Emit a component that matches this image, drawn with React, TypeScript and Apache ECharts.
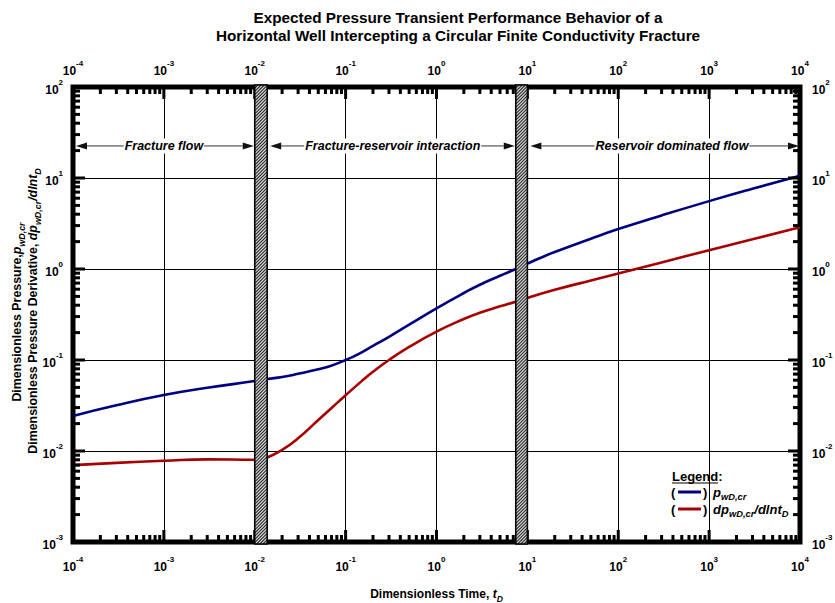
import React, { useEffect, useRef } from 'react';
import * as echarts from 'echarts';

const FONT = '"Liberation Sans", Arial, Helvetica, sans-serif';

// Axis extents (log10 scales on both axes)
const T_MIN = 1e-4;
const T_MAX = 1e4;
const P_MIN = 1e-3;
const P_MAX = 1e2;

// Dimensionless pressure p_wD,cr versus t_D
const pressureTime = [1e-4, 3e-4, 1e-3, 3e-3, 1e-2, 0.0137, 0.02, 0.03, 0.05, 0.0667, 0.1, 0.14, 0.2, 0.3, 0.5, 1, 2, 3, 5, 7.45, 10, 13.6, 20, 50, 100, 300, 1000, 3000, 1e4];
const pressureValues = [0.0243, 0.0318, 0.0412, 0.0495, 0.0587, 0.0618, 0.065, 0.0705, 0.079, 0.0855, 0.1, 0.117, 0.143, 0.18, 0.245, 0.37, 0.545, 0.672, 0.844, 1.0, 1.145, 1.311, 1.535, 2.155, 2.745, 3.88, 5.57, 7.62, 10.6];

// Pressure derivative dp_wD,cr/dln t_D versus t_D
const derivTime = [1e-4, 3e-4, 1e-3, 3e-3, 1e-2, 0.0137, 0.02, 0.03, 0.05, 0.07, 0.1, 0.15, 0.2, 0.3, 0.5, 1, 2, 3, 5, 7.45, 10, 20, 50, 100, 300, 1000, 3000, 1e4];
const derivValues = [0.007, 0.0074, 0.0078, 0.0081, 0.008, 0.0085, 0.0103, 0.0138, 0.0219, 0.0297, 0.041, 0.0586, 0.0742, 0.1, 0.139, 0.205, 0.282, 0.331, 0.389, 0.437, 0.48, 0.59, 0.749, 0.893, 1.18, 1.61, 2.12, 2.87];

// Transition zones between flow regimes [start t_D, end t_D]
const bandStart = [0.01, 7.45];
const bandEnd = [0.0137, 10];

// Flow-regime annotations
const regimeFrom = [1e-4, 0.0137, 10];
const regimeTo = [0.01, 7.45, 1e4];
const regimeLabelAt = [1e-3, 0.33, 390];
const regimeLabels = ['Fracture flow', 'Fracture-reservoir interaction', 'Reservoir dominated flow'];
const REGIME_LEVEL = 22.5;

// Tick positions: decades with 2..9 subdivisions
const xDecades = [-4, -3, -2, -1, 0, 1, 2, 3, 4];
const yDecades = [-3, -2, -1, 0, 1, 2];
const subdivisions = [1, 2, 3, 4, 5, 6, 7, 8, 9];

function buildTicks(decades: number[]) {
  const out: { v: number; major: boolean }[] = [];
  decades.forEach((d, i) => {
    subdivisions.forEach((m) => {
      if (i === decades.length - 1 && m > 1) return;
      out.push({ v: m * Math.pow(10, d), major: m === 1 });
    });
  });
  return out;
}

const xTicks = buildTicks(xDecades);
const yTicks = buildTicks(yDecades);

const powerRich = {
  b: { fontFamily: FONT, fontSize: 12, fontWeight: 'bold', color: '#000', lineHeight: 18, verticalAlign: 'bottom' },
  s: { fontFamily: FONT, fontSize: 8, fontWeight: 'bold', color: '#000', lineHeight: 6, verticalAlign: 'top' },
};

function powerLabel(v: number) {
  const e = Math.round(Math.log10(v));
  return `{b|10}{s|${e}}`;
}

function makeTitleRich(size: number) {
  return {
    t: { fontFamily: FONT, fontSize: size, fontWeight: 'bold', color: '#000', lineHeight: 18, verticalAlign: 'middle' },
    i: { fontFamily: FONT, fontSize: size, fontWeight: 'bold', fontStyle: 'italic', color: '#000', lineHeight: 18, verticalAlign: 'middle' },
    sub: { fontFamily: FONT, fontSize: size * 0.72, fontWeight: 'bold', fontStyle: 'italic', color: '#000', lineHeight: 8, verticalAlign: 'bottom' },
  };
}

const titleRich = makeTitleRich(12);
const yTitleRich = makeTitleRich(12.4);
const legendRich = makeTitleRich(13);

const BLUE = '#000080';
const RED = '#a80000';

function tickLine(x1: number, y1: number, x2: number, y2: number) {
  return { type: 'line', shape: { x1, y1, x2, y2 }, style: { stroke: '#000', lineWidth: 3 } };
}

export default function App() {
  const ref = useRef<HTMLDivElement>(null);

  useEffect(() => {
    document.body.style.margin = '0';
    if (!ref.current) return;
    const chart = echarts.init(ref.current, null, { renderer: 'svg' });

    const logAxisBase = {
      type: 'log' as const,
      logBase: 10,
      axisLine: { show: false },
      axisTick: { show: false },
      minorTick: { show: false },
    };

    const option: any = {
      animation: false,
      backgroundColor: '#fff',
      grid: {
        left: 73,
        right: 35,
        top: 87,
        bottom: 61,
        show: true,
        borderColor: '#000',
        borderWidth: 5,
        backgroundColor: 'transparent',
        containLabel: false,
        outerBoundsMode: 'none',
      },
      xAxis: [
        {
          ...logAxisBase,
          position: 'bottom',
          min: T_MIN,
          max: T_MAX,
          splitNumber: 8,
          splitLine: { show: true, lineStyle: { color: '#000', width: 1 } },
          axisLabel: { formatter: powerLabel, rich: powerRich, margin: 13, showMinLabel: true, showMaxLabel: true },
          name: '{t|Dimensionless Time, }{i|t}{sub|D}',
          nameLocation: 'middle',
          nameGap: 43,
          nameTextStyle: { rich: titleRich },
        },
        {
          ...logAxisBase,
          position: 'top',
          min: T_MIN,
          max: T_MAX,
          splitNumber: 8,
          splitLine: { show: false },
          axisLabel: { formatter: powerLabel, rich: powerRich, margin: 10, showMinLabel: true, showMaxLabel: true },
        },
      ],
      yAxis: [
        {
          ...logAxisBase,
          position: 'left',
          min: P_MIN,
          max: P_MAX,
          splitNumber: 5,
          splitLine: { show: true, lineStyle: { color: '#000', width: 1 } },
          axisLabel: { formatter: powerLabel, rich: powerRich, margin: 10, showMinLabel: true, showMaxLabel: true },
        },
        {
          ...logAxisBase,
          position: 'right',
          min: P_MIN,
          max: P_MAX,
          splitNumber: 5,
          splitLine: { show: false },
          axisLabel: { formatter: powerLabel, rich: powerRich, margin: 12, showMinLabel: true, showMaxLabel: true },
        },
      ],
      series: [
        {
          type: 'line',
          name: 'pwD',
          data: pressureTime.map((t, i) => [t, pressureValues[i]]),
          showSymbol: false,
          smooth: 0.5,
          lineStyle: { color: BLUE, width: 2.6 },
          z: 3,
        },
        {
          type: 'line',
          name: 'dpwD',
          data: derivTime.map((t, i) => [t, derivValues[i]]),
          showSymbol: false,
          smooth: 0.5,
          lineStyle: { color: RED, width: 2.6 },
          z: 3,
        },
        {
          // frame tick marks on all four sides
          type: 'custom',
          clip: false,
          silent: true,
          z: 5,
          data: [[1, 1]],
          renderItem: (params: any, api: any) => {
            const children: any[] = [];
            xTicks.forEach(({ v, major }) => {
              const len = major ? 12 : 7;
              const b = api.coord([v, P_MIN]);
              const t = api.coord([v, P_MAX]);
              children.push(tickLine(b[0], b[1], b[0], b[1] - len));
              children.push(tickLine(t[0], t[1], t[0], t[1] + len));
            });
            yTicks.forEach(({ v, major }) => {
              const len = major ? 12 : 7;
              const l = api.coord([T_MIN, v]);
              const r = api.coord([T_MAX, v]);
              children.push(tickLine(l[0], l[1], l[0] + len, l[1]));
              children.push(tickLine(r[0], r[1], r[0] - len, r[1]));
            });
            return { type: 'group', children };
          },
        },
        {
          // hatched transition zones
          type: 'custom',
          clip: false,
          silent: true,
          z: 7,
          data: bandStart.map((s, i) => [s, 1, bandEnd[i]]),
          renderItem: (params: any, api: any) => {
            const a = api.coord([api.value(0), P_MAX]);
            const b = api.coord([api.value(2), P_MIN]);
            const left = a[0];
            const right = b[0];
            const top = a[1] - 2;
            const bottom = b[1] + 2;
            const children: any[] = [
              { type: 'rect', shape: { x: left, y: top, width: right - left, height: bottom - top }, style: { fill: '#d9d9d9' } },
            ];
            const step = 3.2;
            for (let c = left + top; c <= right + bottom; c += step) {
              const xa = Math.max(left, c - bottom);
              const xb = Math.min(right, c - top);
              if (xb <= xa) continue;
              children.push({
                type: 'line',
                shape: { x1: xa, y1: c - xa, x2: xb, y2: c - xb },
                style: { stroke: '#2a2a2a', lineWidth: 1.1 },
              });
            }
            children.push({
              type: 'rect',
              shape: { x: left, y: top, width: right - left, height: bottom - top },
              style: { fill: 'none', stroke: '#000', lineWidth: 1.6 },
            });
            return { type: 'group', children };
          },
        },
        {
          // flow-regime arrows and labels
          type: 'custom',
          clip: false,
          silent: true,
          z: 6,
          data: regimeFrom.map((f, i) => [f, REGIME_LEVEL, regimeTo[i], regimeLabelAt[i], i]),
          renderItem: (params: any, api: any) => {
            const p0 = api.coord([api.value(0), api.value(1)]);
            const p1 = api.coord([api.value(2), api.value(1)]);
            const pl = api.coord([api.value(3), api.value(1)]);
            const idx = api.value(4);
            const y = p0[1];
            const x0 = p0[0] + 3;
            const x1 = p1[0] - 1;
            const head = 11;
            const half = 3.5;
            return {
              type: 'group',
              children: [
                { type: 'line', shape: { x1: x0 + head, y1: y, x2: x1 - head, y2: y }, style: { stroke: '#333', lineWidth: 1 } },
                { type: 'polygon', shape: { points: [[x0, y], [x0 + head, y - half], [x0 + head, y + half]] }, style: { fill: '#111' } },
                { type: 'polygon', shape: { points: [[x1, y], [x1 - head, y - half], [x1 - head, y + half]] }, style: { fill: '#111' } },
                {
                  type: 'text',
                  x: pl[0],
                  y: y,
                  style: {
                    text: regimeLabels[idx],
                    fontFamily: FONT,
                    fontSize: 12.5,
                    fontWeight: 'bold',
                    fontStyle: 'italic',
                    fill: '#000',
                    align: 'center',
                    verticalAlign: 'middle',
                    backgroundColor: '#fff',
                    padding: [1, 1],
                  },
                },
              ],
            };
          },
        },
      ],
      graphic: [
        {
          type: 'text',
          x: 458,
          y: 8,
          style: {
            text: 'Expected Pressure Transient Performance Behavior of a\nHorizontal Well Intercepting a Circular Finite Conductivity Fracture',
            fontFamily: FONT,
            fontSize: 15.3,
            fontWeight: 'bold',
            lineHeight: 18,
            fill: '#000',
            align: 'center',
            verticalAlign: 'top',
          },
        },
        {
          type: 'text',
          x: 17,
          y: 312,
          rotation: Math.PI / 2,
          style: {
            text: '{t|Dimensionless Pressure,}{i|p}{sub|wD,cr}',
            rich: yTitleRich,
            align: 'center',
            verticalAlign: 'middle',
          },
        },
        {
          type: 'text',
          x: 33,
          y: 311,
          rotation: Math.PI / 2,
          style: {
            text: '{t|Dimensionless Pressure Derivative, }{i|dp}{sub|wD,cr}{i|/dlnt}{sub|D}',
            rich: yTitleRich,
            align: 'center',
            verticalAlign: 'middle',
          },
        },
        // legend block
        {
          type: 'text',
          x: 672,
          y: 476,
          style: { text: 'Legend:', fontFamily: FONT, fontSize: 13, fontWeight: 'bold', fill: '#000', align: 'left', verticalAlign: 'middle' },
        },
        { type: 'line', shape: { x1: 672, y1: 483, x2: 718, y2: 483 }, style: { stroke: '#000', lineWidth: 1.2 } },
        { type: 'text', x: 671, y: 492, style: { text: '(', fontFamily: FONT, fontSize: 13, fontWeight: 'bold', fill: '#000', align: 'left', verticalAlign: 'middle' } },
        { type: 'line', shape: { x1: 678, y1: 492, x2: 701, y2: 492 }, style: { stroke: BLUE, lineWidth: 3 } },
        { type: 'text', x: 703, y: 492, style: { text: ')', fontFamily: FONT, fontSize: 13, fontWeight: 'bold', fill: '#000', align: 'left', verticalAlign: 'middle' } },
        { type: 'text', x: 713, y: 492, style: { text: '{i|p}{sub|wD,cr}', rich: legendRich, align: 'left', verticalAlign: 'middle' } },
        { type: 'text', x: 671, y: 509, style: { text: '(', fontFamily: FONT, fontSize: 13, fontWeight: 'bold', fill: '#000', align: 'left', verticalAlign: 'middle' } },
        { type: 'line', shape: { x1: 678, y1: 509, x2: 701, y2: 509 }, style: { stroke: RED, lineWidth: 3 } },
        { type: 'text', x: 703, y: 509, style: { text: ')', fontFamily: FONT, fontSize: 13, fontWeight: 'bold', fill: '#000', align: 'left', verticalAlign: 'middle' } },
        { type: 'text', x: 713, y: 509, style: { text: '{i|dp}{sub|wD,cr}{i|/dlnt}{sub|D}', rich: legendRich, align: 'left', verticalAlign: 'middle' } },
      ],
    };

    chart.setOption(option);
    return () => chart.dispose();
  }, []);

  return <div ref={ref} style={{ width: 835, height: 603 }} />;
}
